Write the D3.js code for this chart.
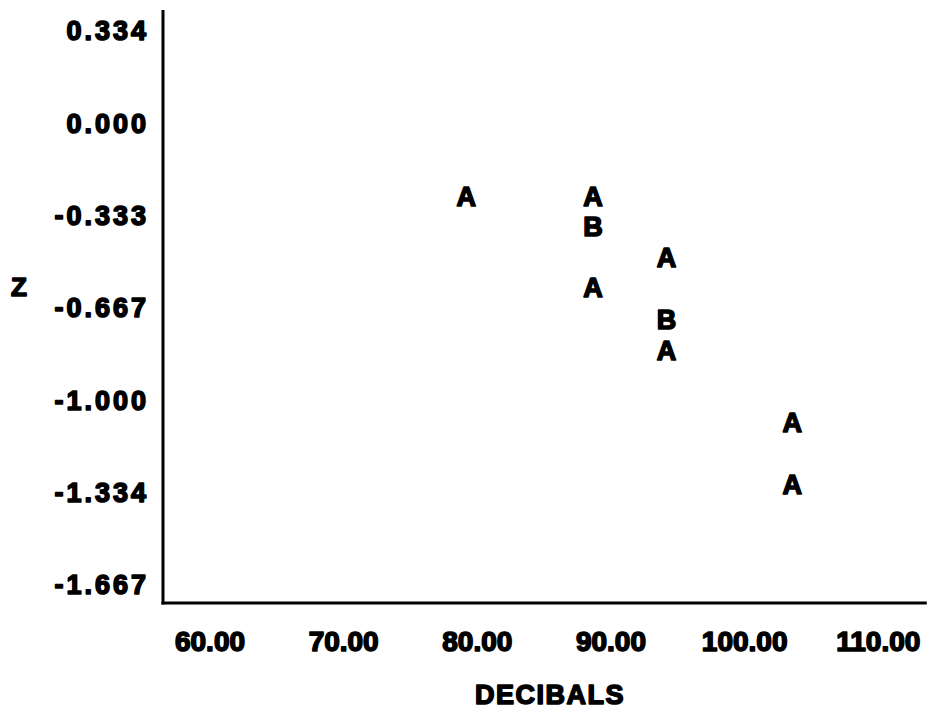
<!DOCTYPE html>
<html>
<head>
<meta charset="utf-8">
<script src="https://cdn.jsdelivr.net/npm/d3@7"></script>
<style>
  html, body { margin: 0; padding: 0; background: #fff; }
  svg { display: block; }
  text { font-family: "Liberation Sans", Arial, sans-serif; font-weight: bold; fill: #000;
         stroke: #000; stroke-width: 1.6px; stroke-linejoin: round; }
</style>
</head>
<body>
<svg id="chart" width="937" height="710"></svg>
<script>
// ---- data ----
const xTicks = [60, 70, 80, 90, 100, 110];
const xTickLabels = ["60.00", "70.00", "80.00", "90.00", "100.00", "110.00"];
const yTicks = [0.334, 0.000, -0.333, -0.667, -1.000, -1.334, -1.667];
const yTickLabels = ["0.334", "0.000", "-0.333", "-0.667", "-1.000", "-1.334", "-1.667"];
const pointDecibels = [79.2, 88.7, 88.7, 88.7, 94.2, 94.2, 94.2, 103.6, 103.6];
const pointZ = [-0.266, -0.266, -0.374, -0.596, -0.488, -0.710, -0.822, -1.084, -1.306];
const pointSymbols = ["A", "A", "B", "A", "A", "B", "A", "A", "A"];
const xTitle = "DECIBALS";
const yTitle = "Z";

// ---- scales ----
const svg = d3.select("#chart");
const x = d3.scaleLinear().domain([60, 110]).range([209.5, 877.8]);
const y = d3.scaleLinear().domain([-1.667, 0.334]).range([584, 30]);

const axisX0 = 163;   // y axis line position
const axisY0 = 603;   // x axis line position

// ---- axis lines ----
svg.append("line")
  .attr("x1", axisX0).attr("x2", axisX0)
  .attr("y1", y(0.334) - 20).attr("y2", axisY0 + 1.5)
  .attr("stroke", "#000").attr("stroke-width", 3);
svg.append("line")
  .attr("x1", axisX0 - 1.5).attr("x2", x(110) + 49)
  .attr("y1", axisY0).attr("y2", axisY0)
  .attr("stroke", "#000").attr("stroke-width", 3);

// ---- y axis ticks ----
const gy = svg.append("g")
  .attr("transform", `translate(${axisX0},0)`)
  .call(d3.axisLeft(y).tickValues(yTicks)
    .tickFormat((d, i) => yTickLabels[i]).tickSize(0).tickPadding(14));
gy.select(".domain").remove();
gy.selectAll("text")
  .attr("dy", "0.36em")
  .style("font-size", "27px")
  .style("letter-spacing", "3px")
  .style("font-family", "'Liberation Sans', Arial, sans-serif")
  .style("font-weight", "bold")
  .attr("fill", "#000");

// ---- x axis ticks ----
const gx = svg.append("g")
  .attr("transform", `translate(0,${axisY0})`)
  .call(d3.axisBottom(x).tickValues(xTicks)
    .tickFormat((d, i) => xTickLabels[i]).tickSize(0).tickPadding(28));
gx.select(".domain").remove();
gx.selectAll("text")
  .style("font-size", "28px")
  .style("font-family", "'Liberation Sans', Arial, sans-serif")
  .style("font-weight", "bold")
  .attr("fill", "#000");

// ---- titles ----
svg.append("text")
  .attr("x", 550).attr("y", 694)
  .attr("dy", "0.36em")
  .attr("text-anchor", "middle")
  .style("font-size", "27px")
  .style("letter-spacing", "1.5px")
  .text(xTitle);

svg.append("text")
  .attr("x", 19).attr("y", 287)
  .attr("dy", "0.36em")
  .attr("text-anchor", "middle")
  .style("font-size", "26px")
  .text(yTitle);

// ---- points ----
svg.append("g").selectAll("text")
  .data(pointDecibels.map((d, i) => ({ x: d, z: pointZ[i], s: pointSymbols[i] })))
  .join("text")
  .attr("x", d => x(d.x))
  .attr("y", d => y(d.z))
  .attr("dy", "0.36em")
  .attr("text-anchor", "middle")
  .style("font-size", "27px")
  .text(d => d.s);
</script>
</body>
</html>
